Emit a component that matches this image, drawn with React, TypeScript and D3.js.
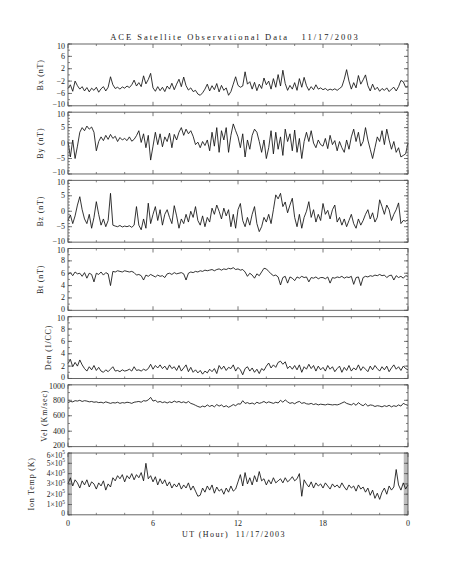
import React from 'react';
import * as d3 from 'd3';

// ACE solar wind, 11/17/2003, one value every 10 minutes (145 samples, 0..24 UT)
const sampleStepHours = 1 / 6;

const bx = [
  -4.4, -3.2, -5.3, -2.0, -3.5, -4.6,
  -3.8, -5.2, -4.1, -5.5, -4.3, -5.0,
  -4.0, -5.6, -4.5, -3.8, -5.2, -4.0,
  -0.6, -3.2, -4.4, -4.0, -4.6, -3.9,
  -4.3, -3.6, -4.1, -3.2, -1.7, -3.6,
  -2.5, -3.8, -0.3, -2.9, -1.5, 0.5,
  -4.2, -5.3, -3.8, -5.1, -4.0, -5.4,
  -3.6, -4.6, -2.7, -4.8, -3.0, -1.4,
  -3.8, -0.7, -3.5, -4.9, -4.2, -5.4,
  -5.0, -6.2, -6.6, -5.8, -4.6, -3.0,
  -5.2, -3.5, -4.8, -2.8, -5.5, -3.4,
  -5.0, -4.2, -6.6, -5.4, -3.0, -0.6,
  -3.4, -4.0, -3.6, 1.0, -3.0, -2.2,
  -4.6, -2.4, -5.1, -3.0, -4.4, -1.0,
  -3.2, -2.0, -4.6, -1.2, -4.0, 0.1,
  -3.6, 1.5, -2.8, -5.0, -3.4, -4.6,
  -2.5, -5.0, -1.2, -4.0, -0.8, -3.5,
  -5.0, -3.8, -4.8, -3.2, -4.6, -4.2,
  -4.8, -4.4, -5.0, -4.6, -4.9, -4.5,
  -5.0, -4.4, -3.8, -1.4, 1.7, -2.0,
  -4.6, -2.5, -4.2, -0.2, -3.0, -1.6,
  0.0, -3.5, -5.2, -3.0, -4.8, -4.0,
  -5.3, -4.4, -5.0, -4.2, -5.4, -4.6,
  -4.0, -5.2, -3.8, -1.8, -2.2, -4.0,
  -3.6,
];

const by = [
  0.5, -4.5, 1.0, -5.0, -1.0, 3.5,
  5.0, 4.0, 5.5, 4.5, 5.2, 3.5,
  -2.5, 0.5, 2.0, 0.8, 2.5, 1.2,
  2.8, 1.5, 2.2, 0.5, 1.8, 1.0,
  1.5, 0.8, 2.0, 0.6, 1.2, 2.4,
  4.0, 0.2, 3.0, -1.5, 2.5, -5.5,
  -1.0, 3.5, -0.5, 3.0, -1.2, 2.0,
  0.5, 3.2, -1.5, 2.8, 1.0, 3.5,
  5.0, 2.5, 4.5, 3.0, 4.0, 2.2,
  -0.5, 0.3, -1.5, 0.5, -0.8, 1.0,
  -2.5, 3.5, -1.0, 5.0, -3.0, 4.0,
  1.0, 5.0, -3.0, 2.5, 6.2, 4.0,
  2.0, -1.5, 3.0, -4.5, 1.0, -2.0,
  2.5, 4.5, 3.5, 0.5, -3.0, 1.0,
  -5.0, -1.5, 4.0, -3.5, 3.5, -2.0,
  2.0, -4.0, 4.5, 0.5, 3.0, -2.5,
  4.2, -3.0, 1.5, -5.0, 0.5, 3.5,
  0.5, 4.0, 0.0, -1.5, 1.0, -0.5,
  -1.0, 1.5, -1.8, 2.5, -0.5, 0.8,
  -2.5, 0.5, -1.5, -3.0, 1.0, -2.0,
  2.0, 4.5, 0.5, 3.5, -1.0, 0.5,
  5.0, 1.0, -2.0, -5.0, -1.5, 2.0,
  0.5, 4.0, -0.5, 4.5, 1.0, -2.0,
  0.5, -3.0, -1.5, -4.5, -4.0, -3.5,
  0.0,
];

const bz = [
  -3.0, -1.2, -4.0, -1.5, 2.0, 4.7,
  0.5, -2.5, -4.0, -1.0, -5.5, -2.0,
  3.1, -1.0, -4.5, -2.5, -5.0, -3.0,
  5.8, -4.5, -4.8, -5.0, -4.6, -5.1,
  -4.8, -5.0, -4.7, -5.2, -4.5, 1.5,
  -4.5, -6.0, -2.5, -5.5, 2.6, -4.0,
  -1.0, 1.5, -3.0, 0.5, -4.5, -1.0,
  0.5, -2.0, -4.0, 1.8, -1.5, -5.5,
  -2.5, -4.0, -1.0, -3.5, 0.0, -2.0,
  1.5, -3.0, -4.5, -1.5, -5.0, -2.0,
  -3.5, 1.0, -1.0, 2.0, 0.0, -2.5,
  1.0, -1.5, 0.5, -5.0, -1.0, -5.5,
  0.5, 2.5, -3.0, -5.0, -2.0, -4.5,
  -1.0, 1.5, -4.0, -6.6, -5.0, -2.0,
  -3.5, -1.0, -4.0, 0.5, 5.3, 4.0,
  5.8, 1.5, 3.0, -0.5, 2.0, 4.2,
  -2.0, -5.0, -1.0, -5.5, -2.0, 0.0,
  3.1, -2.0, 0.5, -3.5, -1.0, -3.0,
  2.5, -1.0, 0.3, -2.5, 0.5, 2.0,
  -3.5, -2.0, -4.5, -2.5, -5.0, -3.0,
  -1.0, -4.0, -5.5, -2.5, -4.5, -3.0,
  -1.0, 0.5, -2.5, -0.5, -3.5, -2.0,
  3.7, 1.5, -1.0, 2.0, 0.5, -3.0,
  -1.0, 0.5, 2.7, -4.0, -3.0, -3.2,
  -2.8,
];

const bt = [
  5.8, 6.1, 5.6, 6.2, 5.9, 6.0,
  5.5, 6.1, 5.2, 6.0, 5.8, 4.6,
  6.0, 5.8, 6.2, 5.7, 6.1, 5.9,
  4.0, 6.3, 6.2, 6.4, 6.3, 6.2,
  6.4, 6.3, 6.2, 6.3, 6.1, 5.7,
  5.8, 5.6, 4.9, 5.7, 5.5, 5.8,
  5.6, 5.4, 5.7, 5.5, 5.6, 5.3,
  5.9, 6.0, 5.8, 6.1, 5.9, 6.0,
  6.1, 5.9, 4.9, 6.0, 6.2, 6.1,
  6.3, 6.2, 6.4, 6.3, 6.5, 6.4,
  6.5, 6.6, 6.4, 6.6, 6.7, 6.5,
  6.7, 6.6, 6.8, 6.7, 6.9, 6.6,
  6.7, 6.5, 6.6, 6.2, 5.5, 6.0,
  5.7, 5.2, 5.9, 5.6, 6.2, 6.8,
  6.7, 6.3, 5.9, 5.6, 5.7, 5.4,
  4.1, 5.3, 5.5, 4.4, 5.4, 5.2,
  4.8, 5.4, 5.2, 5.5, 5.3, 5.4,
  4.6, 5.3, 5.2, 5.4, 5.1, 5.3,
  5.3, 5.1, 5.4, 4.4, 5.3, 5.2,
  5.4, 5.3, 5.5, 5.2, 5.4, 5.3,
  5.5, 4.2, 5.3, 5.4, 4.0, 5.3,
  5.5, 5.4, 5.6, 5.5, 5.7, 5.6,
  5.8, 5.6, 5.7, 5.3, 5.6, 5.7,
  4.9, 5.6, 5.3, 5.5, 5.2, 5.6,
  5.5,
];

const den = [
  2.4, 3.1, 1.9, 2.6, 2.0, 3.0,
  2.2, 1.6, 1.2, 1.9, 1.4, 2.1,
  1.3, 1.8, 1.2, 1.0, 1.4, 1.1,
  1.5, 1.9, 1.2, 1.3, 1.1, 1.4,
  1.2, 1.3, 1.5, 1.2, 1.9, 1.3,
  1.4, 1.2, 1.5, 1.3, 1.6, 2.3,
  1.5, 2.1, 1.7, 2.2, 1.6, 2.0,
  1.4, 2.2, 1.6, 1.9, 1.3, 2.1,
  1.2, 1.7, 2.2, 1.1, 1.8, 1.0,
  1.4, 0.9, 1.3, 0.7, 1.2, 0.9,
  1.5, 1.1, 1.6, 0.8, 2.1, 1.5,
  2.0, 1.3, 1.8, 1.6, 2.2, 1.2,
  1.8, 1.4, 0.6, 1.6, 1.9, 1.2,
  1.7, 1.0, 1.5, 0.8, 1.6, 1.3,
  2.0, 2.5, 1.7, 2.2, 1.8, 2.6,
  2.8, 2.3, 2.7, 1.6, 2.0, 1.5,
  2.1, 1.4, 2.2, 1.0, 1.9, 1.5,
  2.3, 1.6, 2.1, 1.2, 2.0, 1.4,
  1.8, 1.2, 2.1, 1.5, 1.9, 1.1,
  1.6, 2.0, 1.0, 1.8, 1.3, 2.1,
  1.2, 1.7, 1.4, 2.2, 1.3, 1.9,
  1.5, 1.1, 2.0, 1.4, 2.1, 1.6,
  1.2, 1.9, 1.4, 2.0, 1.1, 1.7,
  2.2, 1.5, 1.9, 1.3, 2.0, 1.6,
  1.4,
];

const vel = [
  770, 785, 780, 795, 790, 800,
  785, 795, 790, 780, 785, 775,
  780, 770, 775, 765, 780, 770,
  760, 770, 765, 775, 760, 770,
  765, 775, 770, 760, 775, 780,
  785, 775, 795, 790, 805, 838,
  790, 800, 775, 785, 770, 780,
  765, 780, 770, 790, 775, 785,
  770, 780, 765, 785, 760, 750,
  735, 720, 710, 725, 715, 740,
  720, 735, 715, 745, 725, 740,
  715, 730, 710, 725, 745, 730,
  755, 750, 795, 760, 770, 755,
  765, 750, 775, 760, 770, 785,
  765, 780, 770, 760, 775, 765,
  800, 775, 805, 780, 760, 770,
  755, 775, 785, 760, 770, 755,
  750, 760, 745, 755, 740, 750,
  745, 740, 750, 745, 740, 745,
  740, 750, 765, 780, 760, 750,
  740, 760, 735, 770, 745, 730,
  755, 725, 740, 735, 720, 730,
  725, 715, 730, 720, 735, 715,
  730, 720, 740, 725, 760, 745,
  735,
];

// ion temperature in units of 1e5 K
const ionTemp = [
  3.0, 3.6, 2.8, 3.4, 3.1, 2.6,
  3.3, 2.9, 3.4, 2.7, 3.2, 3.0,
  2.5, 3.1, 2.8, 3.3, 2.4, 3.0,
  2.7, 3.6, 3.3, 3.8, 3.5, 3.9,
  3.2, 3.8, 3.5, 4.0, 3.4, 3.9,
  3.6, 4.1, 3.3, 5.0, 3.5, 3.8,
  3.2, 3.7, 2.9, 3.5, 3.0, 3.4,
  2.8, 3.2, 2.6, 3.0, 2.7, 3.1,
  2.5, 2.9, 2.6, 3.1, 2.4, 2.8,
  2.3, 1.8, 1.9, 2.6, 2.2, 2.8,
  2.4, 2.9, 2.1, 2.7, 2.3, 2.5,
  2.0, 2.6, 2.2, 2.8, 2.3, 2.5,
  3.2, 3.9, 2.8, 4.1, 3.0, 3.6,
  2.9, 3.8, 3.2, 4.2, 3.3, 3.5,
  2.9, 3.4, 3.0, 3.6, 3.1, 3.3,
  3.5, 3.1, 3.6, 3.2, 3.4, 3.7,
  3.3, 3.5, 4.0, 1.8, 3.4, 3.0,
  2.7, 3.2, 2.6, 3.1, 2.8, 3.0,
  2.6, 3.1, 2.8, 2.5, 3.0, 2.7,
  2.9, 2.6, 3.1, 2.7, 2.4, 2.9,
  2.6, 2.8, 2.3, 2.9, 2.5, 2.7,
  2.2, 2.6, 1.9, 2.4, 1.6, 2.1,
  1.5, 2.2, 2.6, 2.0, 2.8, 2.4,
  2.7, 4.4, 2.9, 2.4, 3.1, 2.5,
  2.9,
];

// shaded no-data intervals on the temperature panel (hours)
const tempGaps = [[0, 0.28], [23.7, 24]];

const hourTicks = [0, 6, 12, 18, 24];
const hourTickLabels = ['0', '6', '12', '18', '0'];
const hourMinorTicks = [2, 4, 8, 10, 14, 16, 20, 22];

const bxTicks = [-10, -6, -2, 2, 6, 10];
const byTicks = [-10, -5, 0, 5, 10];
const btTicks = [0, 2, 4, 6, 8, 10];
const velTicks = [200, 400, 600, 800, 1000];
const tempTicks = [0, 1, 2, 3, 4, 5, 6];

const title = 'ACE Satellite Observational Data   11/17/2003';
const xTitle = 'UT (Hour)  11/17/2003';

const font = "'Liberation Serif', 'DejaVu Serif', serif";
const left = 68;
const right = 408;
const top0 = 44;
const step = 68.17;
const ph = 61.8;

type Panel = {
  label: string;
  values: number[];
  domain: [number, number];
  ticks: number[];
  minor: number;
  labelX: number;
  sci?: boolean;
  gaps?: number[][];
};

const panels: Panel[] = [
  { label: 'Bx (nT)', values: bx, domain: [-10, 10], ticks: bxTicks, minor: 2, labelX: 40 },
  { label: 'By (nT)', values: by, domain: [-10, 10], ticks: byTicks, minor: 1, labelX: 40 },
  { label: 'Bz (nT)', values: bz, domain: [-10, 10], ticks: byTicks, minor: 1, labelX: 40 },
  { label: 'Bt (nT)', values: bt, domain: [0, 10], ticks: btTicks, minor: 1, labelX: 40.5 },
  { label: 'Den (1/CC)', values: den, domain: [0, 10], ticks: btTicks, minor: 1, labelX: 48 },
  { label: 'Vel (Km/sec)', values: vel, domain: [200, 1000], ticks: velTicks, minor: 100, labelX: 44.5 },
  { label: 'Ion Temp (K)', values: ionTemp, domain: [0, 6], ticks: tempTicks, minor: 1, labelX: 31, sci: true, gaps: tempGaps },
];

const fmt = (v: number) => (v < 0 ? '\u2212' + Math.abs(v) : String(v));

function PanelView({ p, index }: { p: Panel; index: number }) {
  const top = top0 + index * step;
  const x = d3.scaleLinear().domain([0, 24]).range([left, right]);
  const y = d3.scaleLinear().domain(p.domain).range([top + ph, top]);
  const line = d3
    .line<number>()
    .x((_, i) => x(i * sampleStepHours))
    .y((d) => y(d));
  const minorTicks = d3.range(p.domain[0], p.domain[1] + 1e-9, p.minor);
  const axis = '#555';
  // nudge the end labels inwards so neighbouring panels' labels do not touch
  const labelY = (v: number) => y(v) + (v === p.domain[1] ? 2 : v === p.domain[0] ? -1 : 0);
  return (
    <g>
      {(p.gaps || []).map((g, i) => (
        <rect key={i} x={x(g[0])} y={top} width={x(g[1]) - x(g[0])} height={ph} fill="#bdbdbd" />
      ))}
      <path d={line(p.values) || ''} fill="none" stroke="#111" strokeWidth={0.85} strokeLinejoin="round" />
      <rect x={left} y={top} width={right - left} height={ph} fill="none" stroke={axis} strokeWidth={0.9} />
      {minorTicks.map((v, i) => (
        <g key={'m' + i} stroke={axis} strokeWidth={0.7}>
          <line x1={left} x2={left + 2} y1={y(v)} y2={y(v)} />
          <line x1={right} x2={right - 2} y1={y(v)} y2={y(v)} />
        </g>
      ))}
      {p.ticks.map((v, i) => (
        <g key={'t' + i} stroke={axis} strokeWidth={0.8}>
          <line x1={left} x2={left + 4} y1={y(v)} y2={y(v)} />
          <line x1={right} x2={right - 4} y1={y(v)} y2={y(v)} />
        </g>
      ))}
      {hourMinorTicks.map((h, i) => (
        <g key={'hm' + i} stroke={axis} strokeWidth={0.7}>
          <line x1={x(h)} x2={x(h)} y1={top} y2={top + 2} />
          <line x1={x(h)} x2={x(h)} y1={top + ph} y2={top + ph - 2} />
        </g>
      ))}
      {hourTicks.map((h, i) => (
        <g key={'h' + i} stroke={axis} strokeWidth={0.8}>
          <line x1={x(h)} x2={x(h)} y1={top} y2={top + 4} />
          <line x1={x(h)} x2={x(h)} y1={top + ph} y2={top + ph - 4} />
        </g>
      ))}
      {p.ticks.map((v, i) => (
        <text
          key={'l' + i}
          x={65}
          y={labelY(v)}
          textAnchor="end"
          dominantBaseline="central"
          fontSize={p.sci ? 7.5 : 8}
          fill="#222"
        >
          {p.sci && v !== 0 ? (
            <>
              {v}×10
              <tspan fontSize={5.5} dy={-3}>5</tspan>
            </>
          ) : (
            fmt(v)
          )}
        </text>
      ))}
      <text
        transform={`translate(${p.labelX},${top + ph / 2}) rotate(-90)`}
        textAnchor="middle"
        dominantBaseline="central"
        fontSize={8}
        letterSpacing={0.8}
        fill="#222"
        style={{ whiteSpace: 'pre' }}
      >
        {p.label}
      </text>
    </g>
  );
}

export default function App() {
  const x = d3.scaleLinear().domain([0, 24]).range([left, right]);
  const bottom = top0 + 6 * step + ph;
  return (
    <svg
      width={453}
      height={566}
      style={{ position: 'absolute', left: 0, top: 0, background: '#fff', fontFamily: font }}
    >
      <rect width={453} height={566} fill="#fff" />
      <text
        x={235}
        y={37}
        textAnchor="middle"
        dominantBaseline="central"
        fontSize={8.5}
        letterSpacing={2}
        fill="#222"
        style={{ whiteSpace: 'pre' }}
      >
        {title}
      </text>
      {panels.map((p, i) => (
        <PanelView key={p.label} p={p} index={i} />
      ))}
      {hourTicks.map((h, i) => (
        <text key={i} x={x(h)} y={bottom + 9} textAnchor="middle" dominantBaseline="central" fontSize={8} fill="#222">
          {hourTickLabels[i]}
        </text>
      ))}
      <text
        x={234}
        y={bottom + 20}
        textAnchor="middle"
        dominantBaseline="central"
        fontSize={8}
        letterSpacing={1.4}
        fill="#222"
        style={{ whiteSpace: 'pre' }}
      >
        {xTitle}
      </text>
    </svg>
  );
}
